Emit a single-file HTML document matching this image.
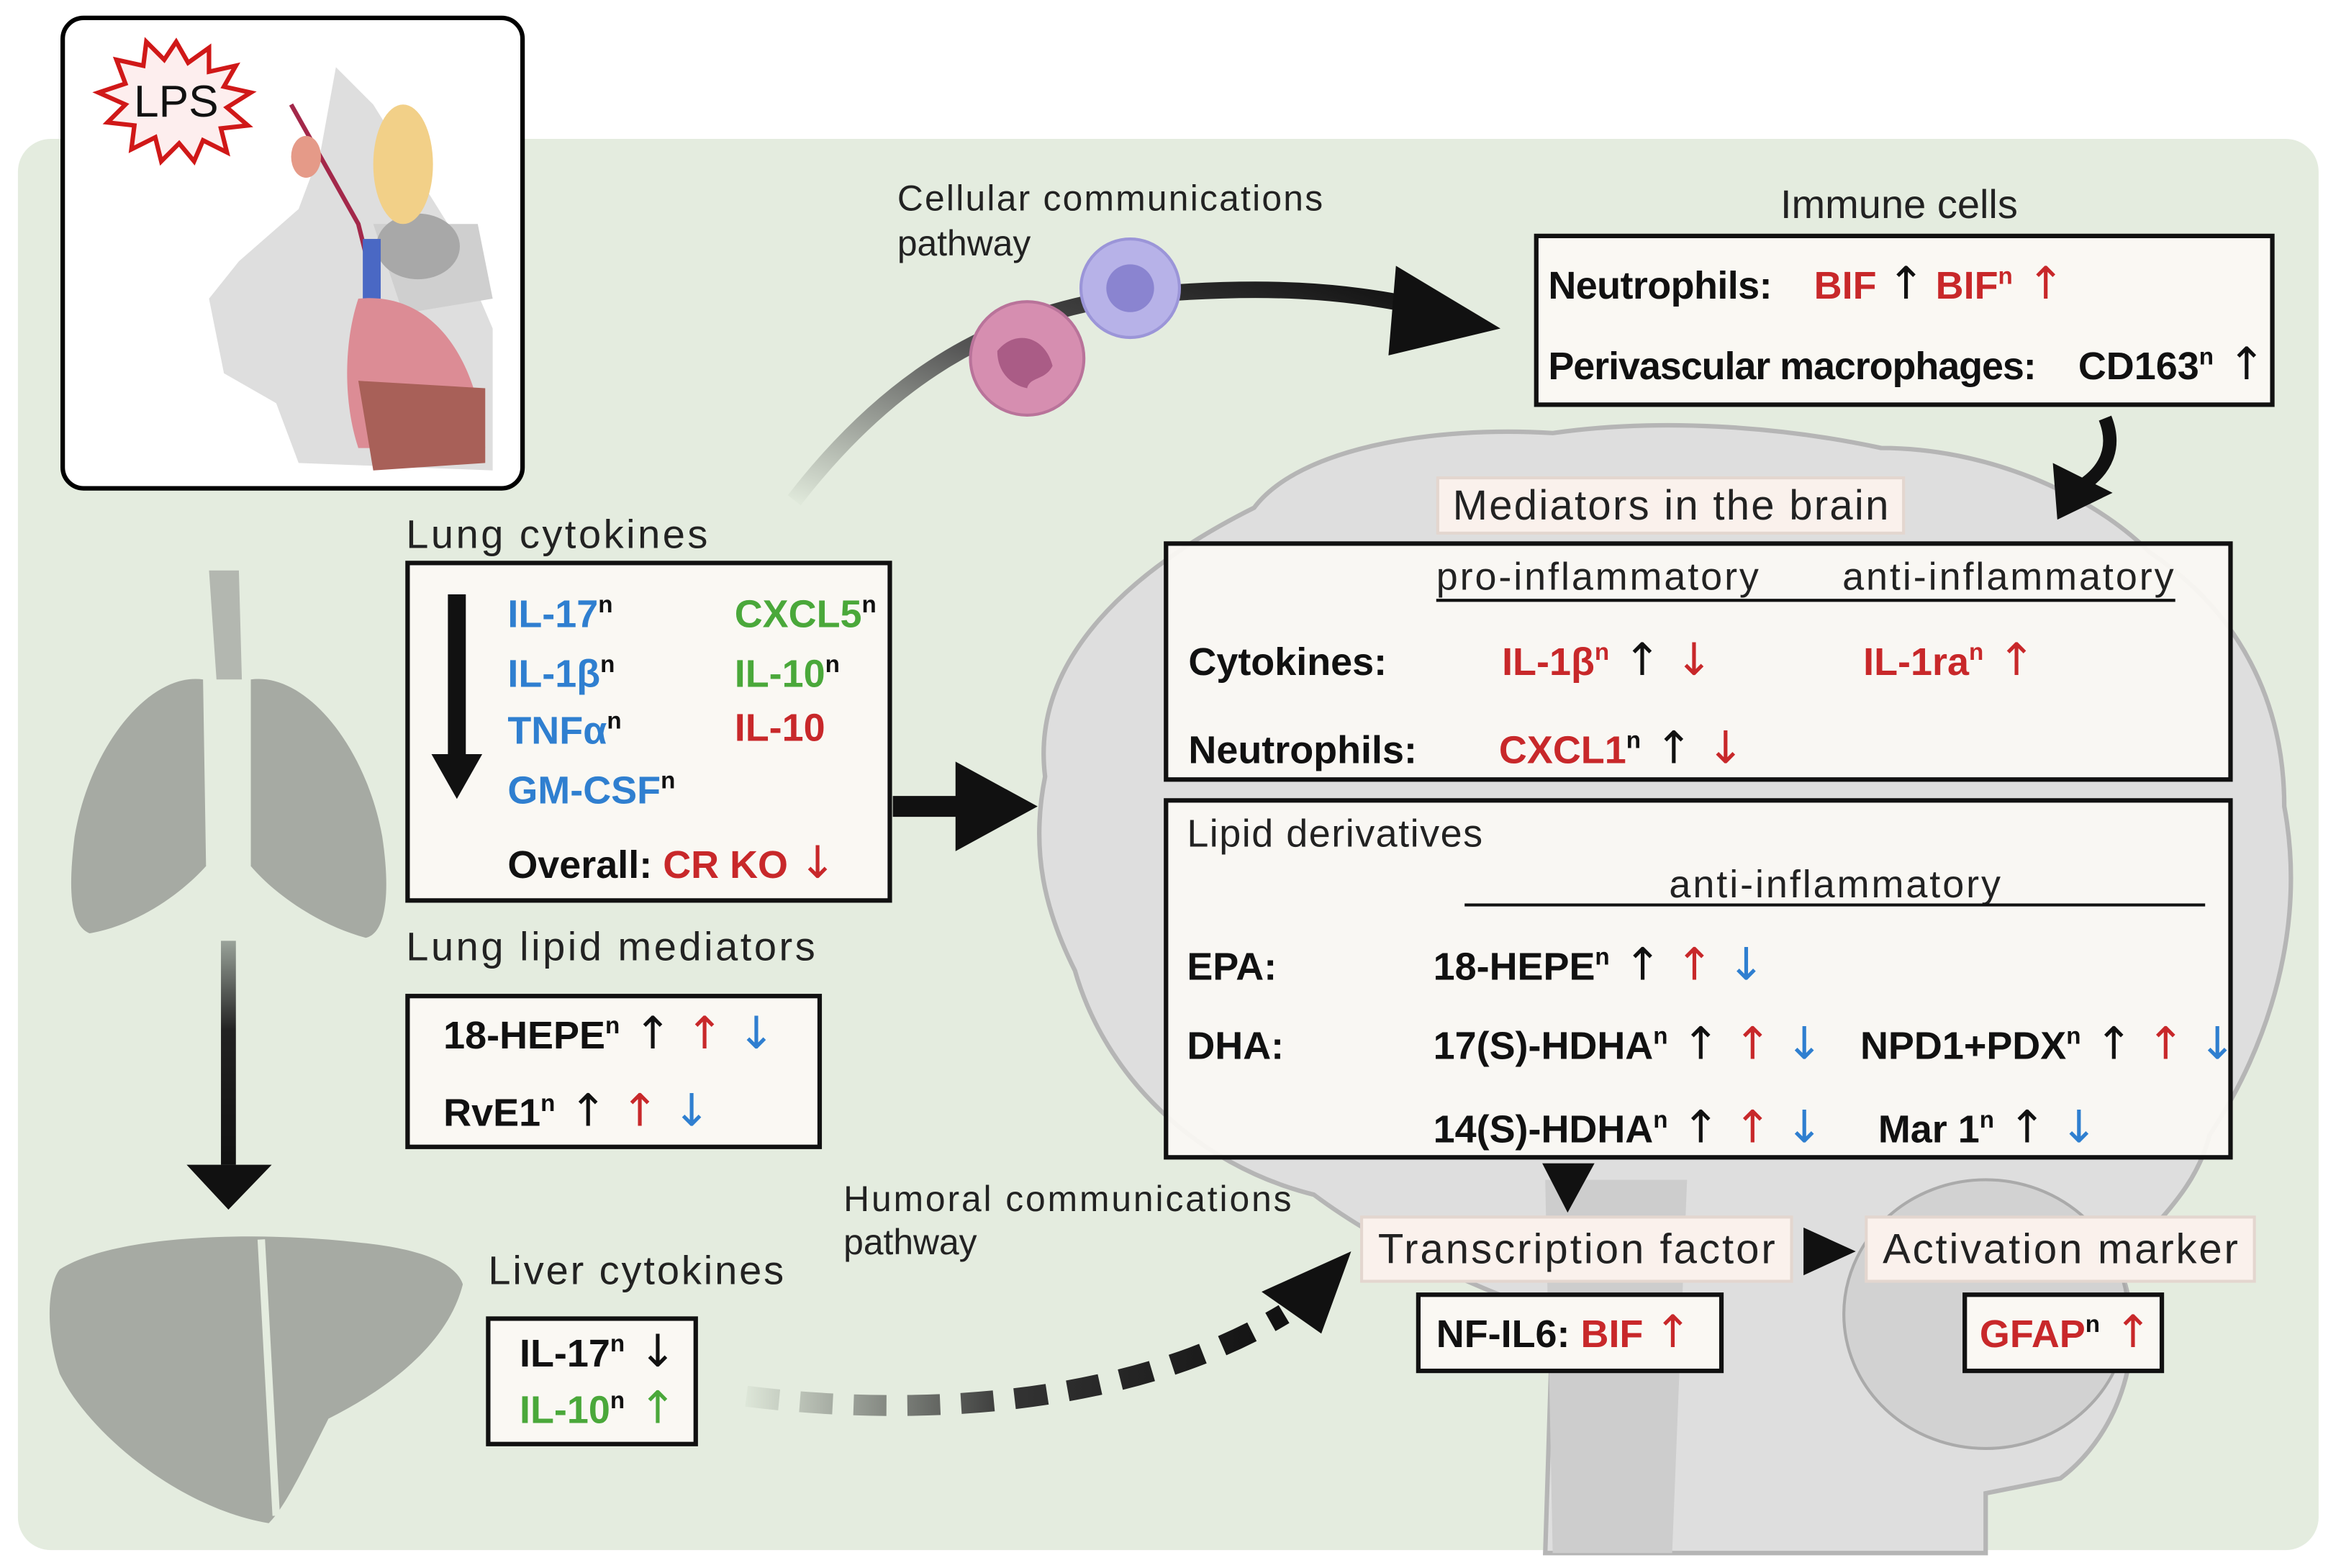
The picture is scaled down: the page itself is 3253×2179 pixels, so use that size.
<!DOCTYPE html>
<html><head><meta charset="utf-8"><style>
html,body{margin:0;padding:0;background:#fff}
svg{display:block}
text{font-family:"Liberation Sans Narrow","Liberation Sans",sans-serif}
.b{font-weight:bold}
.r{fill:#c8282a}.bl{fill:#2f7fd0}.g{fill:#4aa83a}.k{fill:#111}
.a{font-size:30px;font-family:"DejaVu Sans",sans-serif;font-weight:normal}
</style></head><body>
<svg width="3253" height="2179" viewBox="0 0 1568 1050" preserveAspectRatio="none" xmlns="http://www.w3.org/2000/svg">
<defs>
<linearGradient id="gc" x1="0" y1="1" x2="1" y2="0"><stop offset="0" stop-color="#dfe8da"/><stop offset="0.5" stop-color="#555"/><stop offset="1" stop-color="#111"/></linearGradient>
<linearGradient id="gd" x1="0" y1="0" x2="0" y2="1"><stop offset="0" stop-color="#9aa39a"/><stop offset="0.4" stop-color="#222"/><stop offset="1" stop-color="#111"/></linearGradient>
<linearGradient id="gh" x1="0" y1="0" x2="1" y2="0"><stop offset="0" stop-color="#dde6d8"/><stop offset="0.5" stop-color="#333"/><stop offset="1" stop-color="#111"/></linearGradient>
</defs>
<rect width="1568" height="1050" fill="#fff"/>
<rect x="12" y="93" width="1541" height="945" rx="22" fill="#e4ecdf"/>

<!-- brain -->
<path d="M700,520 C690,440 760,380 840,340 C870,300 960,285 1040,290 C1110,280 1190,285 1260,300 C1330,300 1400,330 1440,370 C1500,410 1530,470 1530,540 C1545,620 1520,700 1480,760 C1470,800 1440,820 1420,850 C1440,900 1420,960 1380,990 L1330,1000 L1330,1040 L1035,1040 L1040,880 C980,860 920,830 880,800 C800,780 740,720 720,650 C700,610 690,570 700,520 Z" fill="#dedede" stroke="#b5b5b5" stroke-width="3"/>
<path d="M1035,790 L1130,790 L1120,1040 L1040,1040 Z" fill="#cdcdcd"/>
<ellipse cx="1330" cy="880" rx="95" ry="90" fill="#d2d2d2" stroke="#aaa" stroke-width="2"/>

<!-- mouse box -->
<rect x="42" y="12" width="308" height="315" rx="14" fill="#fff" stroke="#000" stroke-width="3"/>
<polygon points="118,28 126,42 140,32 140,48 158,44 150,58 168,62 152,72 166,84 148,86 152,102 136,94 130,108 120,96 108,108 104,92 88,100 90,84 72,82 84,70 66,62 84,56 78,40 96,44 98,28 110,40" fill="#fdeeee" stroke="#d01818" stroke-width="3"/>
<text x="118" y="78" font-size="30" text-anchor="middle" fill="#111" style="font-family:'Liberation Sans',sans-serif">LPS</text>
<path d="M225,45 L250,70 L300,150 L330,220 L330,315 L200,310 L185,270 L150,250 L140,200 L160,175 L200,140 L215,100 Z" fill="#dedede"/>
<path d="M250,150 L320,150 L330,200 L270,210 Z" fill="#cfcfcf"/>
<ellipse cx="280" cy="165" rx="28" ry="22" fill="#a8a8a8"/>
<ellipse cx="270" cy="110" rx="20" ry="40" fill="#f2d088"/>
<path d="M195,70 L240,150 L245,170" fill="none" stroke="#a3284a" stroke-width="3"/>
<rect x="243" y="160" width="12" height="40" fill="#4a68c4"/>
<path d="M240,200 C290,195 320,240 325,300 L240,300 C230,270 230,230 240,200 Z" fill="#dc8c95"/>
<path d="M240,255 L325,260 L325,310 L250,315 Z" fill="#a86058"/>
<ellipse cx="205" cy="105" rx="10" ry="14" fill="#e59a88"/>

<!-- lungs -->
<path d="M140,382 L160,382 L162,455 L145,455 Z" fill="#b3b7b0"/>
<path d="M136,455 C100,450 60,500 50,560 C45,600 48,620 60,625 C90,620 120,600 138,580 Z" fill="#a6aaa3"/>
<path d="M168,455 C205,450 245,500 256,560 C262,600 258,625 245,628 C215,620 185,600 168,580 Z" fill="#a6aaa3"/>
<!-- liver -->
<path d="M40,850 C80,825 180,825 240,832 C280,836 305,845 310,860 C300,900 260,930 220,950 C200,990 190,1010 180,1020 C120,1010 60,960 40,920 C30,890 32,860 40,850 Z" fill="#a6aaa3"/>
<path d="M175,830 L185,1015" stroke="#e4ecdf" stroke-width="5"/>

<!-- lung->liver arrow -->
<rect x="148" y="630" width="10" height="150" fill="url(#gd)"/>
<polygon points="125,780 182,780 153,810" fill="#111"/>

<!-- cellular curved arrow -->
<path d="M532,335 C590,260 660,210 760,198 C850,190 900,195 950,205" fill="none" stroke="url(#gc)" stroke-width="11"/>
<polygon points="935,178 1005,220 930,238" fill="#111"/>
<circle cx="688" cy="240" r="38" fill="#d68eb0" stroke="#b9739a" stroke-width="2"/>
<path d="M668,235 C680,220 700,225 705,245 C700,255 690,252 688,260 C678,258 668,250 668,235 Z" fill="#aa5c86"/>
<circle cx="757" cy="193" r="33" fill="#b7b2e8" stroke="#9b95d8" stroke-width="2"/>
<circle cx="757" cy="193" r="16" fill="#8a84d0"/>
<text x="601" y="141" font-size="24" fill="#222" style="font-family:'Liberation Sans',sans-serif" textLength="285">Cellular communications</text>
<text x="601" y="171" font-size="24" fill="#222" style="font-family:'Liberation Sans',sans-serif">pathway</text>

<!-- immune cells -->
<text x="1272" y="146" font-size="27" text-anchor="middle" fill="#222" style="font-family:'Liberation Sans',sans-serif">Immune cells</text>
<rect x="1029" y="158" width="493" height="113" fill="#faf8f3" stroke="#111" stroke-width="3"/>
<text x="1037" y="200" font-size="26" class="b k" textLength="150">Neutrophils:</text>
<text x="1215" y="200" font-size="26" class="b r">BIF <tspan class="k a">↑</tspan> BIF<tspan font-size="16" dy="-10">n</tspan><tspan dy="10" class="a"> ↑</tspan></text>
<text x="1037" y="254" font-size="26" class="b k" textLength="327">Perivascular macrophages:</text>
<text x="1392" y="254" font-size="26" class="b k">CD163<tspan font-size="16" dy="-10">n</tspan><tspan dy="10" class="a"> ↑</tspan></text>
<path d="M1410,280 C1418,300 1410,315 1395,325" fill="none" stroke="#111" stroke-width="9"/>
<polygon points="1378,348 1375,310 1415,330" fill="#111"/>

<!-- lung cytokines -->
<text x="272" y="367" font-size="27" fill="#222" style="font-family:'Liberation Sans',sans-serif" textLength="202">Lung cytokines</text>
<rect x="273" y="377" width="323" height="226" fill="#faf8f3" stroke="#111" stroke-width="3"/>
<rect x="300" y="398" width="12" height="110" fill="#111"/>
<polygon points="289,505 323,505 306,535" fill="#111"/>
<g font-size="26" class="b">
<text x="340" y="420" class="bl">IL-17<tspan font-size="16" dy="-10" class="k">n</tspan></text>
<text x="340" y="460" class="bl">IL-1β<tspan font-size="16" dy="-10" class="k">n</tspan></text>
<text x="340" y="498" class="bl">TNFα<tspan font-size="16" dy="-10" class="k">n</tspan></text>
<text x="340" y="538" class="bl">GM-CSF<tspan font-size="16" dy="-10" class="k">n</tspan></text>
<text x="492" y="420" class="g">CXCL5<tspan font-size="16" dy="-10" class="k">n</tspan></text>
<text x="492" y="460" class="g">IL-10<tspan font-size="16" dy="-10" class="k">n</tspan></text>
<text x="492" y="496" class="r">IL-10</text>
<text x="340" y="588" class="k">Overall: <tspan class="r">CR KO <tspan class="a">↓</tspan></tspan></text>
</g>
<polygon points="598,533 640,533 640,510 695,540 640,570 640,547 598,547" fill="#111"/>

<!-- lung lipid -->
<text x="272" y="643" font-size="27" fill="#222" style="font-family:'Liberation Sans',sans-serif" textLength="274">Lung lipid mediators</text>
<rect x="273" y="667" width="276" height="101" fill="#faf8f3" stroke="#111" stroke-width="3"/>
<g font-size="26" class="b">
<text x="297" y="702" class="k">18-HEPE<tspan font-size="16" dy="-10">n</tspan><tspan dy="10" class="a"> ↑ </tspan><tspan class="r a">↑</tspan><tspan class="bl a"> ↓</tspan></text>
<text x="297" y="754" class="k">RvE1<tspan font-size="16" dy="-10">n</tspan><tspan dy="10" class="a">  ↑ </tspan><tspan class="r a">↑</tspan><tspan class="bl a"> ↓</tspan></text>
</g>

<!-- liver cytokines -->
<text x="327" y="860" font-size="27" fill="#222" style="font-family:'Liberation Sans',sans-serif" textLength="198">Liver cytokines</text>
<rect x="327" y="883" width="139" height="84" fill="#faf8f3" stroke="#111" stroke-width="3"/>
<g font-size="26" class="b">
<text x="348" y="915" class="k">IL-17<tspan font-size="16" dy="-10">n</tspan><tspan dy="10" class="a"> ↓</tspan></text>
<text x="348" y="953" class="g">IL-10<tspan font-size="16" dy="-10" class="k">n</tspan><tspan dy="10" class="a"> ↑</tspan></text>
</g>

<!-- humoral dashed -->
<text x="565" y="811" font-size="24" fill="#222" style="font-family:'Liberation Sans',sans-serif" textLength="300">Humoral communications</text>
<text x="565" y="840" font-size="24" fill="#222" style="font-family:'Liberation Sans',sans-serif">pathway</text>
<path d="M500,935 C620,950 760,940 860,880" fill="none" stroke="url(#gh)" stroke-width="14" stroke-dasharray="22,14"/>
<polygon points="905,838 845,865 885,893" fill="#111"/>

<!-- mediators in brain -->
<rect x="963" y="320" width="312" height="37" fill="#faf1ec" stroke="#e3d6cf" stroke-width="2"/>
<text x="1119" y="348" font-size="28" text-anchor="middle" fill="#222" style="font-family:'Liberation Sans',sans-serif" textLength="292">Mediators in the brain</text>
<rect x="781" y="364" width="713" height="158" fill="#faf8f3" fill-opacity="0.95" stroke="#111" stroke-width="3"/>
<text x="962" y="395" font-size="26" fill="#222" textLength="216">pro-inflammatory</text>
<text x="1234" y="395" font-size="26" fill="#222" textLength="222">anti-inflammatory</text>
<line x1="962" y1="402" x2="1457" y2="402" stroke="#111" stroke-width="2"/>
<g font-size="26" class="b">
<text x="796" y="452" class="k">Cytokines:</text>
<text x="1006" y="452" class="r">IL-1β<tspan font-size="16" dy="-10">n</tspan><tspan dy="10" class="k a"> ↑</tspan><tspan class="a"> ↓</tspan></text>
<text x="1248" y="452" class="r">IL-1ra<tspan font-size="16" dy="-10">n</tspan><tspan dy="10" class="a"> ↑</tspan></text>
<text x="796" y="511" class="k">Neutrophils:</text>
<text x="1004" y="511" class="r">CXCL1<tspan font-size="16" dy="-10" class="k">n</tspan><tspan dy="10" class="k a"> ↑</tspan><tspan class="a"> ↓</tspan></text>
</g>

<rect x="781" y="536" width="713" height="239" fill="#faf8f3" fill-opacity="0.95" stroke="#111" stroke-width="3"/>
<text x="795" y="567" font-size="26" fill="#222" textLength="198">Lipid derivatives</text>
<text x="1118" y="601" font-size="26" fill="#222" textLength="222">anti-inflammatory</text>
<line x1="981" y1="606" x2="1477" y2="606" stroke="#111" stroke-width="2"/>
<g font-size="26" class="b k">
<text x="795" y="656">EPA:</text>
<text x="960" y="656">18-HEPE<tspan font-size="16" dy="-10">n</tspan><tspan dy="10" class="a"> ↑ </tspan><tspan class="r a">↑</tspan><tspan class="bl a"> ↓</tspan></text>
<text x="795" y="709">DHA:</text>
<text x="960" y="709">17(S)-HDHA<tspan font-size="16" dy="-10">n</tspan><tspan dy="10" class="a"> ↑ </tspan><tspan class="r a">↑</tspan><tspan class="bl a"> ↓</tspan></text>
<text x="1246" y="709">NPD1+PDX<tspan font-size="16" dy="-10">n</tspan><tspan dy="10" class="a"> ↑ </tspan><tspan class="r a">↑</tspan><tspan class="bl a"> ↓</tspan></text>
<text x="960" y="765">14(S)-HDHA<tspan font-size="16" dy="-10">n</tspan><tspan dy="10" class="a"> ↑ </tspan><tspan class="r a">↑</tspan><tspan class="bl a"> ↓</tspan></text>
<text x="1258" y="765">Mar 1<tspan font-size="16" dy="-10">n</tspan><tspan dy="10" class="a"> ↑</tspan><tspan class="bl a"> ↓</tspan></text>
</g>

<polygon points="1033,779 1068,779 1050,812" fill="#111"/>
<rect x="912" y="815" width="288" height="43" fill="#faf1ec" stroke="#e3d6cf" stroke-width="2"/>
<text x="1056" y="846" font-size="28" text-anchor="middle" fill="#222" style="font-family:'Liberation Sans',sans-serif" textLength="266">Transcription factor</text>
<polygon points="1208,822 1243,838 1208,854" fill="#111"/>
<rect x="1250" y="815" width="260" height="43" fill="#faf1ec" stroke="#e3d6cf" stroke-width="2"/>
<text x="1380" y="846" font-size="28" text-anchor="middle" fill="#222" style="font-family:'Liberation Sans',sans-serif" textLength="238">Activation marker</text>
<rect x="950" y="867" width="203" height="51" fill="#faf8f3" stroke="#111" stroke-width="3"/>
<text x="962" y="902" font-size="26" class="b k">NF-IL6:  <tspan class="r">BIF <tspan class="a">↑</tspan></tspan></text>
<rect x="1316" y="867" width="132" height="51" fill="#faf8f3" stroke="#111" stroke-width="3"/>
<text x="1326" y="902" font-size="26" class="b r">GFAP<tspan font-size="16" dy="-10" class="k">n</tspan><tspan dy="10" class="a"> ↑</tspan></text>
</svg>
</body></html>
